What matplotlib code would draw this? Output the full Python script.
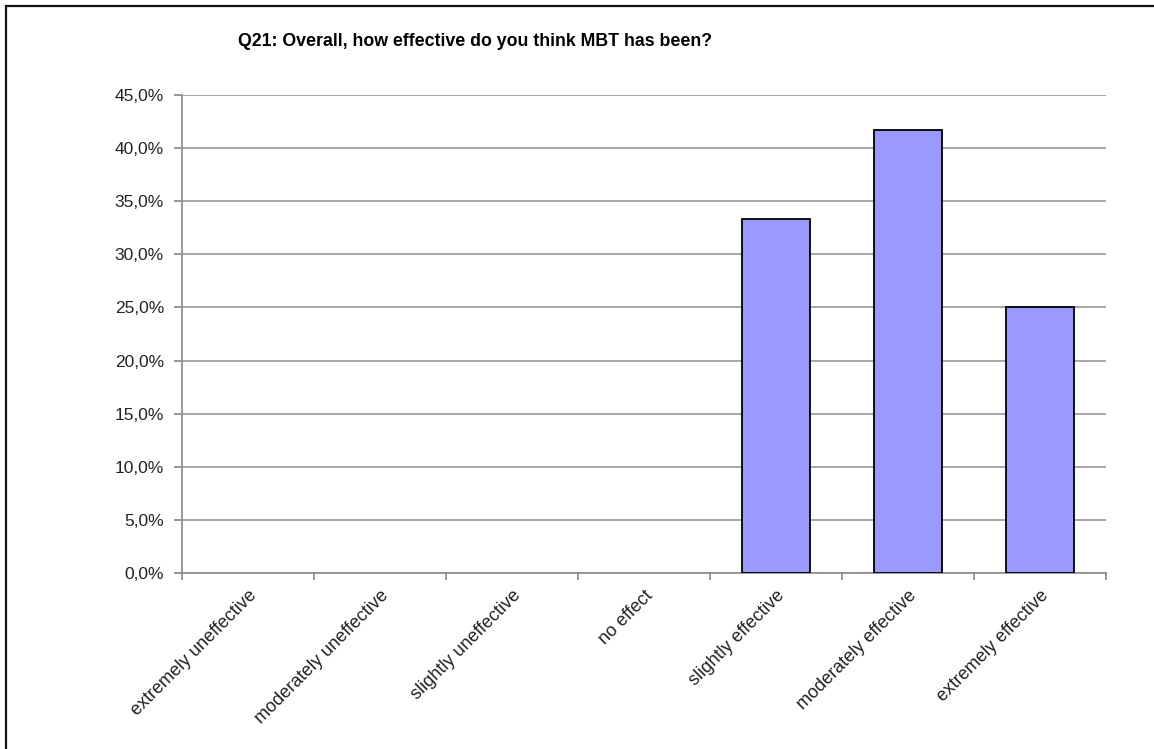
import matplotlib.pyplot as plt
from matplotlib.patches import Rectangle
from matplotlib.ticker import FuncFormatter, FixedLocator

# Survey answers and share of respondents (%)
categories = ['extremely uneffective', 'moderately uneffective', 'slightly uneffective',
              'no effect', 'slightly effective', 'moderately effective', 'extremely effective']
shares = [0.0, 0.0, 0.0, 0.0, 33.3, 41.7, 25.0]
title = 'Q21: Overall, how effective do you think MBT has been?'

plt.rcParams['font.family'] = ['Liberation Sans', 'DejaVu Sans']

W, H = 1154, 749
fig = plt.figure(figsize=(W / 100, H / 100), dpi=100)
ax = fig.add_axes([182 / W, 1 - 573 / H, (1106 - 182) / W, (573 - 95) / H])

x = list(range(len(categories)))
# empty categories get no outline
edges = ['black' if v > 0 else 'none' for v in shares]
ax.bar(x, shares, width=0.51, color='#9999ff', edgecolor=edges, linewidth=1.3, zorder=3)

ax.set_xlim(-0.5, len(categories) - 0.5)
ax.set_ylim(0, 45)
ax.set_yticks(range(0, 46, 5))
ax.yaxis.set_major_formatter(FuncFormatter(lambda v, p: f'{v:.1f}%'.replace('.', ',')))
ax.grid(axis='y', color='#a0a0a0', linewidth=1.3, zorder=0)

# category labels centred, ticks at the boundaries between categories
ax.set_xticks(x)
ax.set_xticklabels(categories, rotation=45, ha='right', rotation_mode='anchor', fontsize=13, color='#222222')
ax.tick_params(axis='x', which='major', length=0, pad=10)
ax.xaxis.set_minor_locator(FixedLocator([i - 0.5 for i in range(len(categories) + 1)]))
ax.tick_params(axis='x', which='minor', length=5, color='#909090', width=1.3)
ax.tick_params(axis='y', length=6, color='#909090', width=1.3, labelsize=12.5, labelcolor='#222222', pad=7)

for side in ['top', 'right']:
    ax.spines[side].set_visible(False)
for side in ['left', 'bottom']:
    ax.spines[side].set_color('#909090')
    ax.spines[side].set_linewidth(1.3)

fig.text(238 / W, 1 - 42 / H, title, fontsize=12.8, fontweight='bold', color='black', va='center', ha='left')

# chart area frame
fig.patches.append(Rectangle((6 / W, -0.05), 1.1, 1 - 6 / H + 0.05, transform=fig.transFigure,
                             fill=False, edgecolor='#111111', linewidth=1.6))

fig.savefig('out.png', dpi=100, facecolor='white')
